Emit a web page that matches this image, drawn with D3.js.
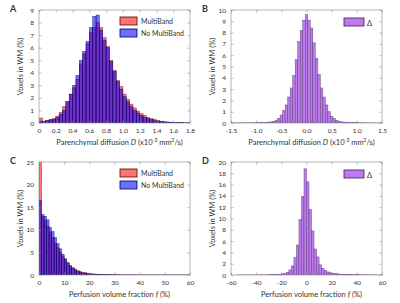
<!DOCTYPE html>
<html>
<head>
<meta charset="utf-8">
<script src="https://cdn.jsdelivr.net/npm/d3@7"></script>
<style>
body { margin: 0; background: #fff; }
svg { display: block; }
text { font-family: Lato, "Liberation Sans", sans-serif; fill: #333; }
</style>
</head>
<body>
<svg id="svg"></svg>
<script>
var width = 400, height = 303;
var svg = d3.select("#svg").attr("width", width).attr("height", height);

// Panel A: parenchymal diffusion D, bins of 0.04 from 0 to 1.8
var diffBinStart = 0, diffBinWidth = 0.04;
var diffMultiBand = [0.4, 0.15, 0.2, 0.3, 0.35, 0.55, 0.85, 1.3, 1.7, 2.3,
	2.8, 3.5, 4.7, 5.5, 6.3, 7.2, 7.6, 8.0, 7.6, 6.8,
	6.1, 5.0, 4.2, 3.4, 2.9, 2.3, 1.9, 1.5, 1.2, 0.95,
	0.75, 0.6, 0.45, 0.35, 0.28, 0.2, 0.15, 0.1, 0.08, 0.06,
	0.04, 0.03, 0.02, 0.01, 0.01];
var diffNoMultiBand = [0.15, 0.1, 0.2, 0.25, 0.3, 0.45, 0.7, 1.0, 1.7, 2.3,
	3.0, 3.8, 5.0, 5.7, 6.5, 7.6, 8.5, 8.6, 7.4, 6.6,
	6.0, 4.9, 4.1, 3.3, 2.7, 2.1, 1.7, 1.3, 1.0, 0.8,
	0.6, 0.45, 0.35, 0.28, 0.2, 0.15, 0.1, 0.08, 0.06, 0.05,
	0.03, 0.02, 0.02, 0.01, 0.01];

// Panel B: difference in D, bins of 0.05 centred on -1.5 ... 1.5
var diffDeltaBinStart = -1.525, diffDeltaBinWidth = 0.05;
var diffDelta = [0.01, 0.01, 0.01, 0.01, 0.01, 0.02, 0.02, 0.02, 0.02, 0.02,
	0.03, 0.03, 0.04, 0.05, 0.06, 0.08, 0.1, 0.15, 0.25, 0.4,
	0.7, 1.1, 1.6, 2.3, 3.1, 4.2, 5.6, 7.2, 8.2, 9.1,
	9.6,
	9.1, 8.4, 7.1, 5.7, 4.3, 3.1, 2.3, 1.6, 1.0, 0.6,
	0.4, 0.25, 0.15, 0.1, 0.08, 0.06, 0.05, 0.04, 0.03, 0.03,
	0.02, 0.02, 0.02, 0.01, 0.01, 0.01, 0.01, 0.01, 0.01, 0.01];

// Panel C: perfusion volume fraction f, bins of 1 from 0 to 60
var perfBinStart = 0, perfBinWidth = 1;
var perfMultiBand = [27, 13.0, 12.0, 10.8, 9.5, 8.3, 7.0, 6.0, 5.0, 4.2,
	3.4, 2.7, 2.1, 1.7, 1.3, 1.0, 0.8, 0.6, 0.5, 0.4,
	0.32, 0.26, 0.22, 0.18, 0.15, 0.12, 0.1, 0.09, 0.08, 0.07,
	0.06, 0.05, 0.05, 0.04, 0.04, 0.03, 0.03, 0.03, 0.02, 0.02,
	0.02, 0.02, 0.02, 0.02, 0.01, 0.01, 0.01, 0.01, 0.01, 0.01,
	0.01, 0.01, 0.01, 0.01, 0.01, 0.01, 0.01, 0.01, 0.01, 0.01];
var perfNoMultiBand = [16.5, 13.4, 13.0, 12.2, 10.5, 9.6, 8.3, 7.0, 5.8, 4.6,
	3.6, 2.7, 2.0, 1.5, 1.1, 0.8, 0.6, 0.45, 0.34, 0.26,
	0.2, 0.16, 0.13, 0.1, 0.08, 0.07, 0.06, 0.05, 0.04, 0.04,
	0.03, 0.03, 0.03, 0.02, 0.02, 0.02, 0.02, 0.02, 0.01, 0.01,
	0.01, 0.01, 0.01, 0.01, 0.01, 0.01, 0.01, 0.01, 0.01, 0.01,
	0.01, 0.01, 0.01, 0.01, 0.01, 0.01, 0.01, 0.01, 0.01, 0.01];

// Panel D: difference in f, bins of 2 from -60 to 60
var perfDeltaBinStart = -60, perfDeltaBinWidth = 2;
var perfDelta = [0, 0, 0.01, 0.01, 0.02, 0.03, 0.02, 0.02, 0.02, 0.02,
	0.02, 0.03, 0.03, 0.03, 0.04, 0.05, 0.06, 0.08, 0.1, 0.15,
	0.2, 0.3, 0.5, 0.9, 1.6, 3.1, 5.3, 9.8, 13.9, 18.8,
	16.5, 11.6, 7.8, 4.6, 3.2, 1.8, 1.2, 0.8, 0.55, 0.4,
	0.3, 0.25, 0.2, 0.15, 0.12, 0.1, 0.08, 0.07, 0.06, 0.05,
	0.05, 0.04, 0.04, 0.04, 0.03, 0.03, 0.03, 0.02, 0.01, 0.01];

// ticks
var diffXTicks = [0, 0.2, 0.4, 0.6, 0.8, 1.0, 1.2, 1.4, 1.6, 1.8];
var diffXLabels = ["0", "0.2", "0.4", "0.6", "0.8", "1.0", "1.2", "1.4", "1.6", "1.8"];
var diffYTicks = [0, 1, 2, 3, 4, 5, 6, 7, 8, 9];
var deltaDXTicks = [-1.5, -1.0, -0.5, 0, 0.5, 1.0, 1.5];
var deltaDXLabels = ["-1.5", "-1.0", "-0.5", "0.0", "0.5", "1.0", "1.5"];
var deltaDYTicks = [0, 1, 2, 3, 4, 5, 6, 7, 8, 9, 10];
var perfXTicks = [0, 10, 20, 30, 40, 50, 60];
var perfYTicks = [0, 5, 10, 15, 20, 25];
var deltaFXTicks = [-60, -40, -20, 0, 20, 40, 60];
var deltaFYTicks = [0, 2, 4, 6, 8, 10, 12, 14, 16, 18, 20];

var redFill = "rgba(255,0,0,0.55)", blueFill = "rgba(0,0,255,0.57)", purpleFill = "#bd7bee";

function diffTitle(t) {
	t.append("tspan").text("Parenchymal diffusion ");
	t.append("tspan").attr("font-style", "italic").text("D");
	t.append("tspan").text(" (x10");
	t.append("tspan").attr("font-size", "5px").attr("dy", -3).text("-3");
	t.append("tspan").attr("dy", 3).text(" mm");
	t.append("tspan").attr("font-size", "5px").attr("dy", -3).text("2");
	t.append("tspan").attr("dy", 3).text("/s)");
}
function perfTitle(t) {
	t.append("tspan").text("Perfusion volume fraction ");
	t.append("tspan").attr("font-style", "italic").text("f");
	t.append("tspan").text(" (%)");
}

var panels = [
	{ id: "A", left: 39, top: 10, x: [0, 1.8], y: [0, 9], xt: diffXTicks, xl: diffXLabels, yt: diffYTicks,
	  start: diffBinStart, bw: diffBinWidth, title: diffTitle,
	  series: [{ values: diffMultiBand, fill: redFill, stroke: "#5a0000", name: "MultiBand" },
	           { values: diffNoMultiBand, fill: blueFill, stroke: "#00005a", name: "No MultiBand" }] },
	{ id: "B", left: 231, top: 10, x: [-1.5, 1.5], y: [0, 10], xt: deltaDXTicks, xl: deltaDXLabels, yt: deltaDYTicks,
	  start: diffDeltaBinStart, bw: diffDeltaBinWidth, title: diffTitle,
	  series: [{ values: diffDelta, fill: purpleFill, stroke: "#3d1f55", name: "\u0394" }] },
	{ id: "C", left: 39, top: 162, x: [0, 60], y: [0, 25], xt: perfXTicks, xl: perfXTicks.map(String), yt: perfYTicks,
	  start: perfBinStart, bw: perfBinWidth, title: perfTitle,
	  series: [{ values: perfMultiBand, fill: redFill, stroke: "#5a0000", name: "MultiBand" },
	           { values: perfNoMultiBand, fill: blueFill, stroke: "#00005a", name: "No MultiBand" }] },
	{ id: "D", left: 231, top: 162, x: [-60, 60], y: [0, 20], xt: deltaFXTicks, xl: deltaFXTicks.map(String), yt: deltaFYTicks,
	  start: perfDeltaBinStart, bw: perfDeltaBinWidth, title: perfTitle,
	  series: [{ values: perfDelta, fill: purpleFill, stroke: "#3d1f55", name: "\u0394" }] }
];

var pw = 151, ph = 113;

panels.forEach(function(p) {
	var g = svg.append("g").attr("transform", "translate(" + p.left + "," + p.top + ")");
	var x = d3.scaleLinear().domain(p.x).range([0, pw]);
	var y = d3.scaleLinear().domain(p.y).range([ph, 0]);

	g.append("clipPath").attr("id", "clip" + p.id)
		.append("rect").attr("width", pw).attr("height", ph);

	var bars = g.append("g").attr("clip-path", "url(#clip" + p.id + ")");
	p.series.forEach(function(s) {
		bars.selectAll(null)
			.data(s.values)
			.enter().append("rect")
			.attr("x", function(d, i) { return x(p.start + i * p.bw); })
			.attr("width", function(d, i) { return x(p.start + (i + 1) * p.bw) - x(p.start + i * p.bw); })
			.attr("y", function(d) { return y(d); })
			.attr("height", function(d) { return y(0) - y(d); })
			.attr("fill", s.fill)
			.attr("stroke", s.stroke)
			.attr("stroke-width", 0.5)
			.attr("stroke-opacity", 0.7);
	});

	// axes, ticks pointing inward on all sides
	g.append("g").attr("transform", "translate(0," + ph + ")")
		.call(d3.axisBottom(x).tickValues(p.xt).tickSize(-2.5).tickPadding(5)
			.tickFormat(function(d, i) { return p.xl[i]; }));
	g.append("g")
		.call(d3.axisLeft(y).tickValues(p.yt).tickSize(-2.5).tickPadding(5));
	g.append("g").call(d3.axisTop(x).tickValues(p.xt).tickSize(-2.5).tickFormat(""));
	g.append("g").attr("transform", "translate(" + pw + ",0)")
		.call(d3.axisRight(y).tickValues(p.yt).tickSize(-2.5).tickFormat(""));
	g.selectAll(".domain").remove();
	g.selectAll(".tick line").attr("stroke", "#888").attr("stroke-width", 0.6);
	g.selectAll(".tick text").attr("font-size", "6.5px").attr("fill", "#333")
		.attr("font-family", "Lato, 'Liberation Sans', sans-serif");

	g.append("rect").attr("width", pw).attr("height", ph)
		.attr("fill", "none").attr("stroke", "#999").attr("stroke-width", 0.7);

	// labels
	svg.append("text")
		.attr("x", p.left - 29).attr("y", p.top + 2)
		.attr("font-size", "9px").attr("font-weight", "bold").attr("fill", "#111")
		.text(p.id);
	svg.append("text")
		.attr("transform", "translate(" + (p.left - 16) + "," + (p.top + ph / 2) + ") rotate(-90)")
		.attr("text-anchor", "middle").attr("font-size", "7.5px")
		.text("Voxels in WM (%)");
	p.title(svg.append("text")
		.attr("x", p.left + pw / 2 + 5).attr("y", p.top + ph + 22)
		.attr("text-anchor", "middle").attr("font-size", "7.5px"));

	// legend
	var lg = g.append("g");
	if (p.series.length === 2) {
		p.series.forEach(function(s, i) {
			lg.append("rect").attr("x", 81).attr("y", 7 + i * 12).attr("width", 17).attr("height", 8)
				.attr("fill", s.fill).attr("stroke", s.stroke).attr("stroke-width", 0.8);
			lg.append("text").attr("x", 102).attr("y", 14 + i * 12)
				.attr("font-size", "7px").text(s.name);
		});
	} else {
		var s = p.series[0];
		lg.append("rect").attr("x", 113).attr("y", 8).attr("width", 20).attr("height", 8)
			.attr("fill", s.fill).attr("stroke", s.stroke).attr("stroke-width", 0.8);
		lg.append("text").attr("x", 136).attr("y", 15.5)
			.attr("font-size", "7.5px").text(s.name);
	}
});
</script>
</body>
</html>
